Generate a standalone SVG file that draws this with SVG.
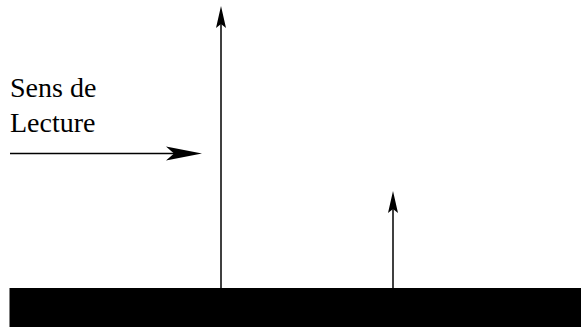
<svg xmlns="http://www.w3.org/2000/svg" width="581" height="327" viewBox="0 0 581 327">
<style>
.ln{stroke:#000;stroke-width:1.5;fill:none}
.hd{fill:#000;stroke:none}
</style>
<rect width="581" height="327" fill="#fff"/>
<g id="ground"><rect x="9.5" y="288" width="572" height="40" fill="#000"/></g>
<g id="label" font-family="Liberation Serif, Tinos, Noto Serif, DejaVu Serif, serif" font-size="28" fill="#000">
<text x="10" y="97">Sens de</text>
<text x="10" y="132">Lecture</text>
</g>
<g id="connectors">
<line class="ln" x1="10" y1="153.5" x2="190" y2="153.5"/>
<path class="hd" d="M202,153.5 L166,146.5 L174,153.5 L166,160.5 Z"/>
<line class="ln" x1="221" y1="288" x2="221" y2="20"/>
<path class="hd" d="M221,6 L216,28 L221,24 L226,28 Z"/>
<line class="ln" x1="393" y1="288" x2="393" y2="205"/>
<path class="hd" d="M393,191 L388,213 L393,209 L398,213 Z"/>
</g>
</svg>
